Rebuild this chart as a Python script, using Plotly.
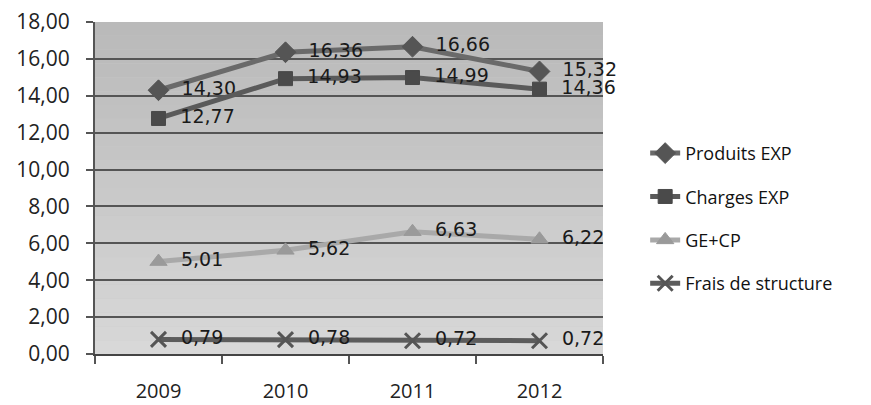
import plotly.graph_objects as go

years = ["2009", "2010", "2011", "2012"]
produits = [14.30, 16.36, 16.66, 15.32]
charges = [12.77, 14.93, 14.99, 14.36]
ge_cp = [5.01, 5.62, 6.63, 6.22]
frais = [0.79, 0.78, 0.72, 0.72]
y_ticks = [0, 2, 4, 6, 8, 10, 12, 14, 16, 18]

series = [
    ("Produits EXP", produits, "#6a6a6a", "diamond", 16, "#555555"),
    ("Charges EXP", charges, "#5a5a5a", "square", 14, "#4a4a4a"),
    ("GE+CP", ge_cp, "#a9a9a9", "triangle-up", 15, "#9a9a9a"),
    ("Frais de structure", frais, "#5c5c5c", "x-thin", 15, "#555555"),
]

def fmt(v):
    return f"{v:.2f}".replace(".", ",")

fig = go.Figure()

# plot-area background gradient (darker top, lighter bottom)
n = 24
for i in range(n):
    t = i / (n - 1)
    c = int(186 + (216 - 186) * t)
    fig.add_shape(type="rect", xref="paper", yref="paper",
                  x0=0, x1=1, y0=1 - (i + 1) / n, y1=1 - i / n,
                  fillcolor=f"rgb({c},{c},{c})", line_width=0, layer="below")

for i, (name, vals, col, sym, size, mcol) in enumerate(series):
    is_x = sym == "x-thin"
    fig.add_trace(go.Scatter(
        x=years, y=vals, name=name, mode="lines+markers+text",
        line=dict(color=col, width=5),
        marker=dict(symbol=sym, size=size, color=mcol,
                    line=dict(color=mcol, width=3 if is_x else 1)),
        text=["  " + fmt(v) for v in vals],
        textposition="middle right",
        textfont=dict(family="DejaVu Sans", size=19, color="#1a1a1a"),
        legendgroup=f"g{i}",
        cliponaxis=False,
    ))

# page body has an 8px margin, so the figure is sized 8px smaller
fig.update_layout(
    width=863, height=397,
    margin=dict(l=87, r=268, t=14, b=51),
    paper_bgcolor="white",
    plot_bgcolor="#c8c8c8",
    separators=", ",
    showlegend=True,
    legend=dict(x=1.083, y=0.66, xanchor="left", yanchor="top",
                font=dict(family="Open Sans", size=18, color="#111111"),
                tracegroupgap=17, traceorder="grouped",
                bgcolor="rgba(0,0,0,0)"),
    font=dict(family="Open Sans", color="#222222"),
)

fig.update_xaxes(
    type="category", range=[-0.5, 3.5], tickson="boundaries",
    ticks="outside", ticklen=8, tickwidth=2, tickcolor="#555555",
    showline=True, linecolor="#444444", linewidth=2,
    showgrid=False, ticklabelstandoff=18, automargin=False,
    tickfont=dict(family="Open Sans", size=20, color="#222222"),
)
fig.update_yaxes(
    range=[0, 18.0001], tickmode="array", tickvals=y_ticks,
    ticktext=[fmt(v) for v in y_ticks],
    ticks="outside", ticklen=7, tickwidth=2, tickcolor="#555555",
    showline=True, linecolor="#555555", linewidth=2,
    showgrid=True, gridcolor="#555555", gridwidth=2,
    zeroline=False, automargin=False, ticklabeloverflow="allow",
    ticklabelstandoff=12,
    tickfont=dict(family="Open Sans", size=21, color="#222222"),
)

fig.write_html("out.html")
